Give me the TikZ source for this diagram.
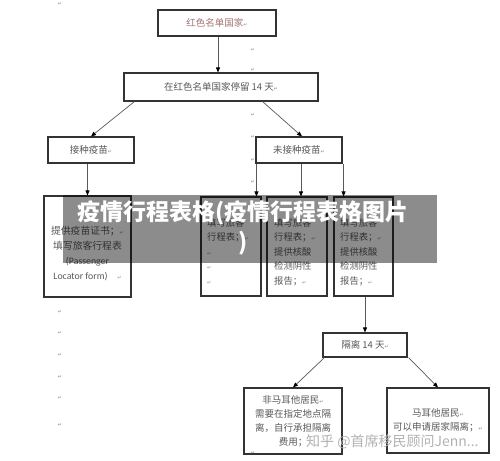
\documentclass[tikz,border=0pt]{standalone}
\usepackage{fontspec}
\setmainfont{Noto Sans CJK SC}
\newfontfamily\dv{DejaVu Sans}
\newfontfamily\carl{Carlito}
\usetikzlibrary{arrows.meta,calc}
\newcommand\pmk{{\dv\fontsize{5}{5}\selectfont\textcolor{black!45}{↵}}}
\begin{document}
\begin{tikzpicture}[x=1pt,y=-1pt,
  box/.style={draw=black!80,line width=1.1pt,inner sep=0pt,text=black!65,
    font=\fontsize{9.5}{14}\selectfont,align=center},
  txt/.style={inner sep=0pt,text=black!65,font=\fontsize{9.3}{14.5}\selectfont,align=left},
  arr/.style={draw=black!65,line width=0.7pt,-{Triangle[length=5pt,width=4pt,color=black]}},
  pmark/.style={inner sep=0pt}]
\useasboundingbox (0,0) rectangle (500,460);
\fill[white] (0,0) rectangle (500,460);
% boxes
\node[box,minimum width=118pt,minimum height=26pt,text=red!35!black!55] (b1) at (217,23) {红色名单国家\pmk};
\node[box,minimum width=194pt,minimum height=28pt] (b2) at (221,87) {在红色名单国家停留 14 天\pmk};
\node[box,minimum width=86pt,minimum height=26pt] (b3) at (91,150) {接种疫苗\pmk};
\node[box,minimum width=86pt,minimum height=26pt] (b4) at (299,150) {未接种疫苗\pmk};
\node[box,minimum width=87pt,minimum height=101pt] (b5) at (87.5,246.5) {};
\node[box,minimum width=60pt,minimum height=99pt] (b6) at (231,246.5) {};
\node[box,minimum width=60pt,minimum height=99pt] (b7) at (297,246.5) {};
\node[box,minimum width=59pt,minimum height=99pt] (b8) at (363.5,246.5) {};
\node[box,minimum width=84pt,minimum height=24pt] (b9) at (365,345) {隔离 14 天\pmk};
\node[box,minimum width=98pt,minimum height=66pt,font=\fontsize{9.5}{14}\selectfont] (b10) at (293,421) {非马耳他居民\pmk\\需要在指定地点隔\\离，自行承担隔离\\费用；};
\node[box,minimum width=102pt,minimum height=65pt,font=\fontsize{9.5}{13.5}\selectfont] (b11) at (438,420.5) {马耳他居民\pmk\\可以申请居家隔离；\pmk};
% texts in tall boxes
\node[txt,align=center,anchor=north,font=\fontsize{9.8}{15}\selectfont] (t5) at (87.5,226) {提供疫苗证书；\pmk\\填写旅客行程表\\{\carl (Passenger}\\{\carl Locator form)}\quad\pmk};
\node[txt,anchor=north west] (t6) at (207,218) {填写旅客\\行程表；\pmk\\\pmk\\\pmk\\\pmk};
\node[txt,anchor=north west] (t7) at (274,218) {填写旅客\\行程表；\pmk\\提供核酸\\检测阴性\\报告；\pmk};
\node[txt,anchor=north west] (t8) at (340,218) {填写旅客\\行程表；\pmk\\提供核酸\\检测阴性\\报告；\pmk};
% connectors
\draw[arr] ($(b1.south)+(1,0)$) coordinate (c1) -- (c1 |- b2.north);
\draw[arr] ($(b2.south west)+(11,0)$) -- (b3.north);
\draw[arr] ($(b2.south east)+(-56,0)$) -- ($(b4.north)+(3,0)$);
\draw[arr] (b3.south -| b5.north) -- (b5.north);
\draw[arr] ($(b4.south west)+(1,0)$) coordinate (c2) -- (c2 |- b6.north);
\draw[arr] ($(b4.south)+(2,0)$) coordinate (c3) -- (c3 |- b7.north);
\draw[arr] ($(b4.south east)+(1,0)$) coordinate (c4) -- (c4 |- b8.north);
\draw[arr] (b9.north |- b8.south) -- (b9.north);
\draw[arr] ($(b9.south west)+(2,0)$) -- (b10.north);
\draw[arr] ($(b9.south east)+(1,0)$) -- (b11.north);
% paragraph marks
\foreach \yy [count=\i] in {4,312,333,355,377,398,425}
  \node[pmark] (pa\i) at (60,\yy) {\pmk};
\foreach \yy [count=\i] in {50,70,115,137,160,182,453}
  \node[pmark] (pb\i) at (253,\yy) {\pmk};
% overlay band
\fill[black,opacity=0.45] (63,195) rectangle (437,263);
\node[inner sep=0pt,text=white,font=\fontsize{23}{30}\selectfont\bfseries,align=center] (wm) at (243,228) {疫情行程表格(疫情行程表格图片\\)};
\node[inner sep=0pt,anchor=west,text=black!30,font=\fontsize{14}{14}\selectfont] (zh) at (306,442) {知乎 @首席移民顾问Jenn...};
\end{tikzpicture}
\end{document}
